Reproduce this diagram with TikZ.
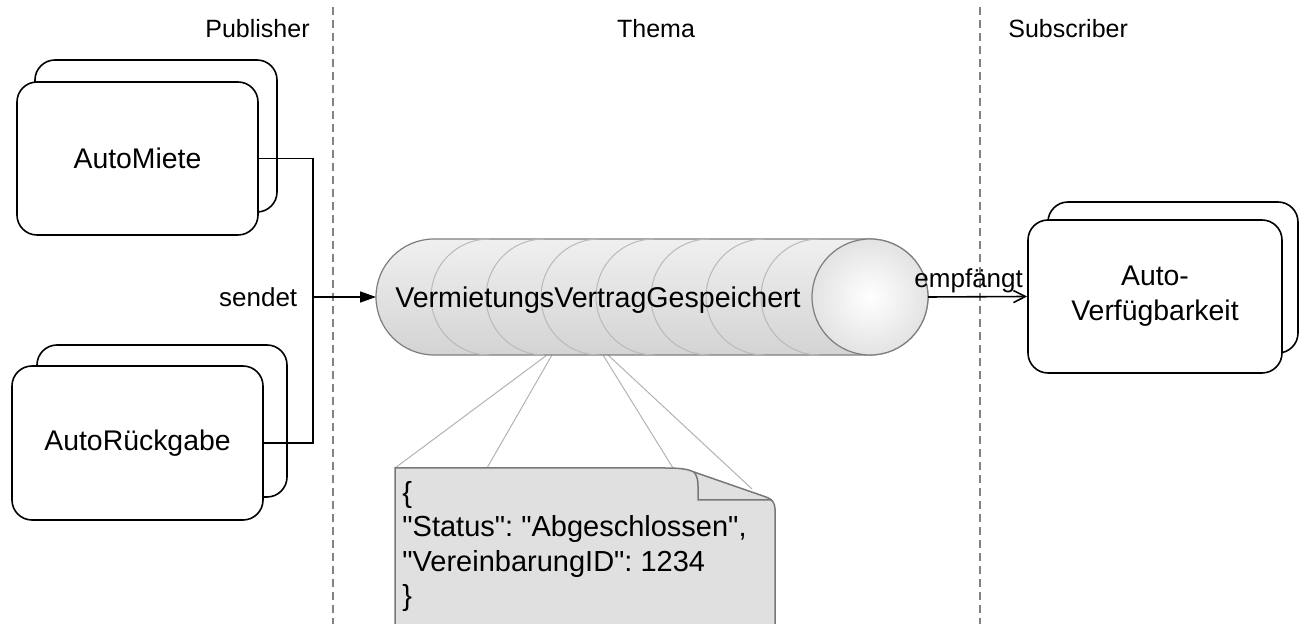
\documentclass[tikz,border=0pt]{standalone}
\usepackage{fontspec}
\setmainfont{Liberation Sans}[Ligatures=TeXOff]
\usetikzlibrary{arrows.meta}

\definecolor{lanegray}{RGB}{130,130,130}
\definecolor{cylgray}{RGB}{125,125,125}
\definecolor{arcgray}{RGB}{185,185,185}
\definecolor{callgray}{RGB}{178,178,178}
\definecolor{notegray}{RGB}{224,224,224}
\definecolor{noteline}{RGB}{120,120,120}

\begin{document}
\begin{tikzpicture}[x=0.5pt,y=-0.5pt]
\tikzstyle{every node}+=[inner sep=0pt]
\tikzstyle{proc}=[draw, line width=0.8pt, rounded corners=10pt, fill=white, align=center, font=\fontsize{14.2}{17.5}\selectfont]
\tikzstyle{lane}=[draw=lanegray, line width=1.1pt, dash pattern=on 4pt off 2.5pt]
\tikzstyle{head}=[font=\fontsize{12.5}{15}\selectfont]
\tikzstyle{conn}=[line width=0.8pt]
\tikzstyle{edgelbl}=[font=\fontsize{13}{15}\selectfont]
\useasboundingbox (0,0) rectangle (1302,624);
\clip (0,0) rectangle (1302,624);

% lanes
\draw [lane] (333,7) -- (333,630);
\draw [lane] (980,7) -- (980,630);
\node [head, anchor=base east] (pub) at (310,38) {Publisher};
\node [head, anchor=base] (them) at (656,38) {Thema};
\node [head, anchor=base west] (sub) at (1008,38) {Subscriber};

% publishers
\node [proc, minimum width=121pt, minimum height=76pt] (mieteB) at (156,136) {};
\node [proc, minimum width=120.5pt, minimum height=76.5pt] (miete) at (137.5,158.5) {AutoMiete};
\node [proc, minimum width=125pt, minimum height=76pt] (rueckB) at (162,421) {};
\node [proc, minimum width=125.5pt, minimum height=77pt] (rueck) at (137.5,443) {AutoRückgabe};

% subscriber
\node [proc, minimum width=125pt, minimum height=75.5pt] (verfB) at (1173,277.5) {};
\node [proc, minimum width=127pt, minimum height=76.5pt] (verf) at (1155,296.5) {Auto-\\Verfügbarkeit};

% callout lines
\draw [callgray, line width=0.5pt] (547,355) -- (395,468);
\draw [callgray, line width=0.5pt] (552,355) -- (487,468);
\draw [callgray, line width=0.5pt] (603,355) -- (673,468);
\draw [callgray, line width=0.5pt] (608,355) -- (752,489);

% topic queue
\path [draw=cylgray, line width=0.6pt, top color=gray!12, middle color=gray!9, bottom color=gray!34]
  (434,239) -- (870,239) arc[start angle=90, end angle=-90, radius=29pt]
  -- (434,355) arc[start angle=270, end angle=90, radius=29pt] -- cycle;
\foreach \k in {1,...,7}
  \draw [arcgray, line width=0.5pt] ({434+\k*55},239) arc[start angle=90, end angle=270, radius=29pt];
\draw [cylgray, line width=0.6pt, inner color=white, outer color=gray!22] (870,297) circle [radius=29pt];
\node [font=\fontsize{14.3}{17}\selectfont] (topic) at (598,300) {VermietungsVertragGespeichert};
\coordinate (qin) at (376,297);
\coordinate (qout) at (928,297);
\coordinate (join) at (313,297);

% connectors
\draw [conn] (miete.east) -| (join);
\draw [conn] (rueck.east) -| (join);
\draw [conn, -{Triangle[length=8pt,width=5.5pt]}] (join) node [edgelbl, left=7.5pt] (send) {sendet} -- (qin);
\draw [conn, -{Straight Barb[length=6pt,width=6pt]}] (qout) -- node [edgelbl, pos=0.41, above=1.5pt] (recv) {empfängt} (verf.west);

% message
\draw [noteline, line width=0.75pt, fill=notegray] (395,640) -- (395,468) -- (665,468)
  .. controls (680,468) and (688,469) .. (694,472) -- (766,497)
  .. controls (772,499) and (775,503) .. (775,509) -- (775,640) -- cycle;
\draw [noteline, line width=0.75pt] (694,472) .. controls (697,476) and (698,480) .. (698,486) -- (698,500) -- (772,500);
\node [anchor=base west, align=left, font=\fontsize{14.5}{17.3}\selectfont\frenchspacing] (msg) at (402,606)
  {\{\\"Status": "Abgeschlossen",\\"VereinbarungID": 1234\\\}};
\end{tikzpicture}
\end{document}
